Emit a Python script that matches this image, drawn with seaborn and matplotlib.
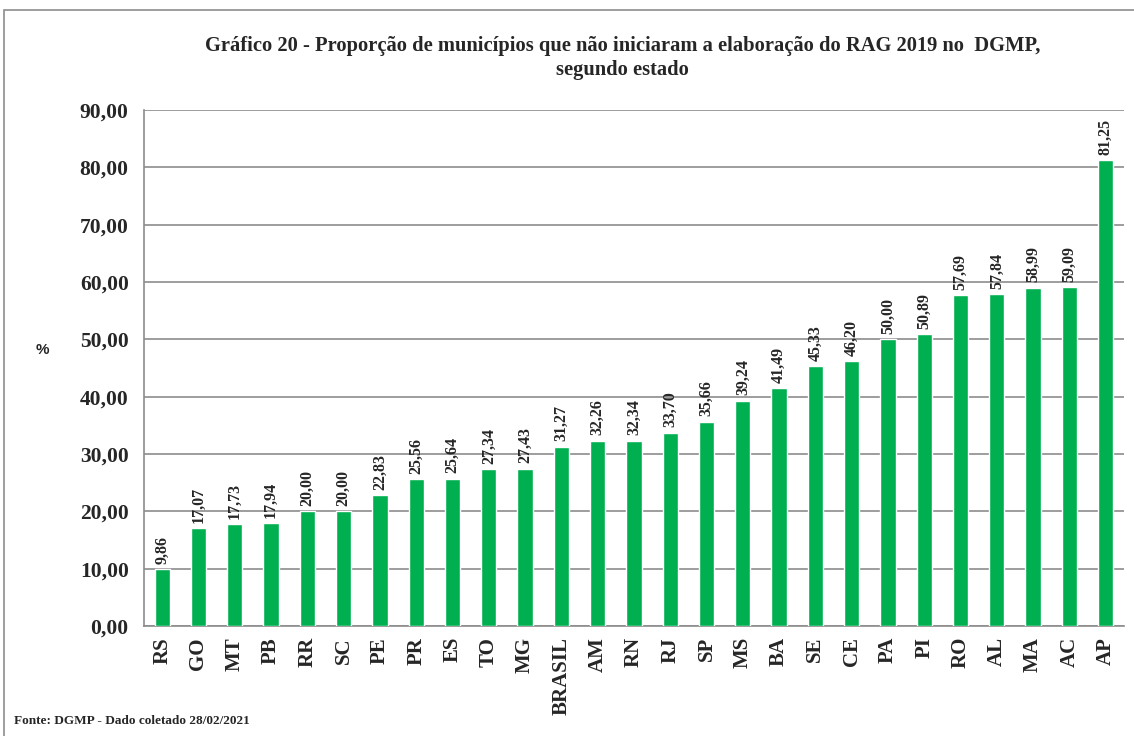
import matplotlib
matplotlib.use("Agg")
import matplotlib.pyplot as plt
import matplotlib.patches as mpatches
import seaborn as sns
import pandas as pd

# dados
estados = ["RS", "GO", "MT", "PB", "RR", "SC", "PE", "PR", "ES", "TO", "MG", "BRASIL",
           "AM", "RN", "RJ", "SP", "MS", "BA", "SE", "CE", "PA", "PI", "RO", "AL",
           "MA", "AC", "AP"]
proporcao = [9.86, 17.07, 17.73, 17.94, 20.00, 20.00, 22.83, 25.56, 25.64, 27.34, 27.43, 31.27,
             32.26, 32.34, 33.70, 35.66, 39.24, 41.49, 45.33, 46.20, 50.00, 50.89, 57.69, 57.84,
             58.99, 59.09, 81.25]
y_ticks = [0, 10, 20, 30, 40, 50, 60, 70, 80, 90]

df = pd.DataFrame({"estado": estados, "pct": proporcao})

sns.set_style("white")
serif = ["Liberation Serif", "DejaVu Serif"]
plt.rcParams["font.family"] = serif

fig = plt.figure(figsize=(11.34, 7.36), dpi=100)
ax = fig.add_axes([0.127, 0.1495, 0.864, 0.701])

# moldura externa (estilo Excel)
fig.patches.append(mpatches.Rectangle((0.0035, -0.01), 1.1, 0.996, transform=fig.transFigure,
                                      fill=False, edgecolor="#8c8c8c", linewidth=1.2))

sns.barplot(data=df, x="estado", y="pct", color="#00B050", saturation=1, width=0.42, ax=ax, zorder=3)

ax.set_ylim(0, 90)
ax.set_xlim(-0.5, len(estados) - 0.5)
ax.set_yticks(y_ticks)
ax.set_yticklabels([f"{v:.2f}".replace(".", ",") for v in y_ticks],
                   fontsize=15.5, fontweight="bold", family=serif)
ax.set_xticks(range(len(estados)))
ax.set_xticklabels(estados, rotation=90, fontsize=15, fontweight="bold", family=serif)
ax.set_xticks([i + 0.5 for i in range(-1, len(estados))], minor=True)
ax.tick_params(axis="x", which="major", length=0, pad=8)
ax.tick_params(axis="x", which="minor", length=6, color="#8c8c8c", width=1)
ax.tick_params(axis="y", length=6, color="#8c8c8c", width=1, pad=5)

ax.grid(axis="y", color="#8c8c8c", linewidth=1.2, zorder=0)
ax.set_axisbelow(True)
for s in ["top", "right"]:
    ax.spines[s].set_visible(False)
for s in ["left", "bottom"]:
    ax.spines[s].set_color("#8c8c8c")
    ax.spines[s].set_linewidth(1.2)
ax.set_xlabel("")
ax.set_ylabel("")

# rótulos de valor
for i, v in enumerate(proporcao):
    ax.annotate(f"{v:.2f}".replace(".", ","), (i, v), xytext=(0, 4), textcoords="offset points",
                rotation=90, ha="center", va="bottom", fontsize=11.5, fontweight="bold", family=serif)

fig.text(0.037, 0.525, "%", fontsize=11, fontweight="bold", family=["Liberation Sans", "DejaVu Sans"],
         ha="center", va="center")

fig.text(0.549, 0.921, "Gráfico 20 - Proporção de municípios que não iniciaram a elaboração do RAG 2019 no  DGMP,\nsegundo estado",
         fontsize=14.8, fontweight="bold", family=serif, ha="center", va="center", linespacing=1.3)

fig.text(0.012, 0.02, "Fonte: DGMP - Dado coletado 28/02/2021", fontsize=9.5, fontweight="bold",
         family=serif, ha="left", va="center")

fig.savefig("out.png", dpi=100)
